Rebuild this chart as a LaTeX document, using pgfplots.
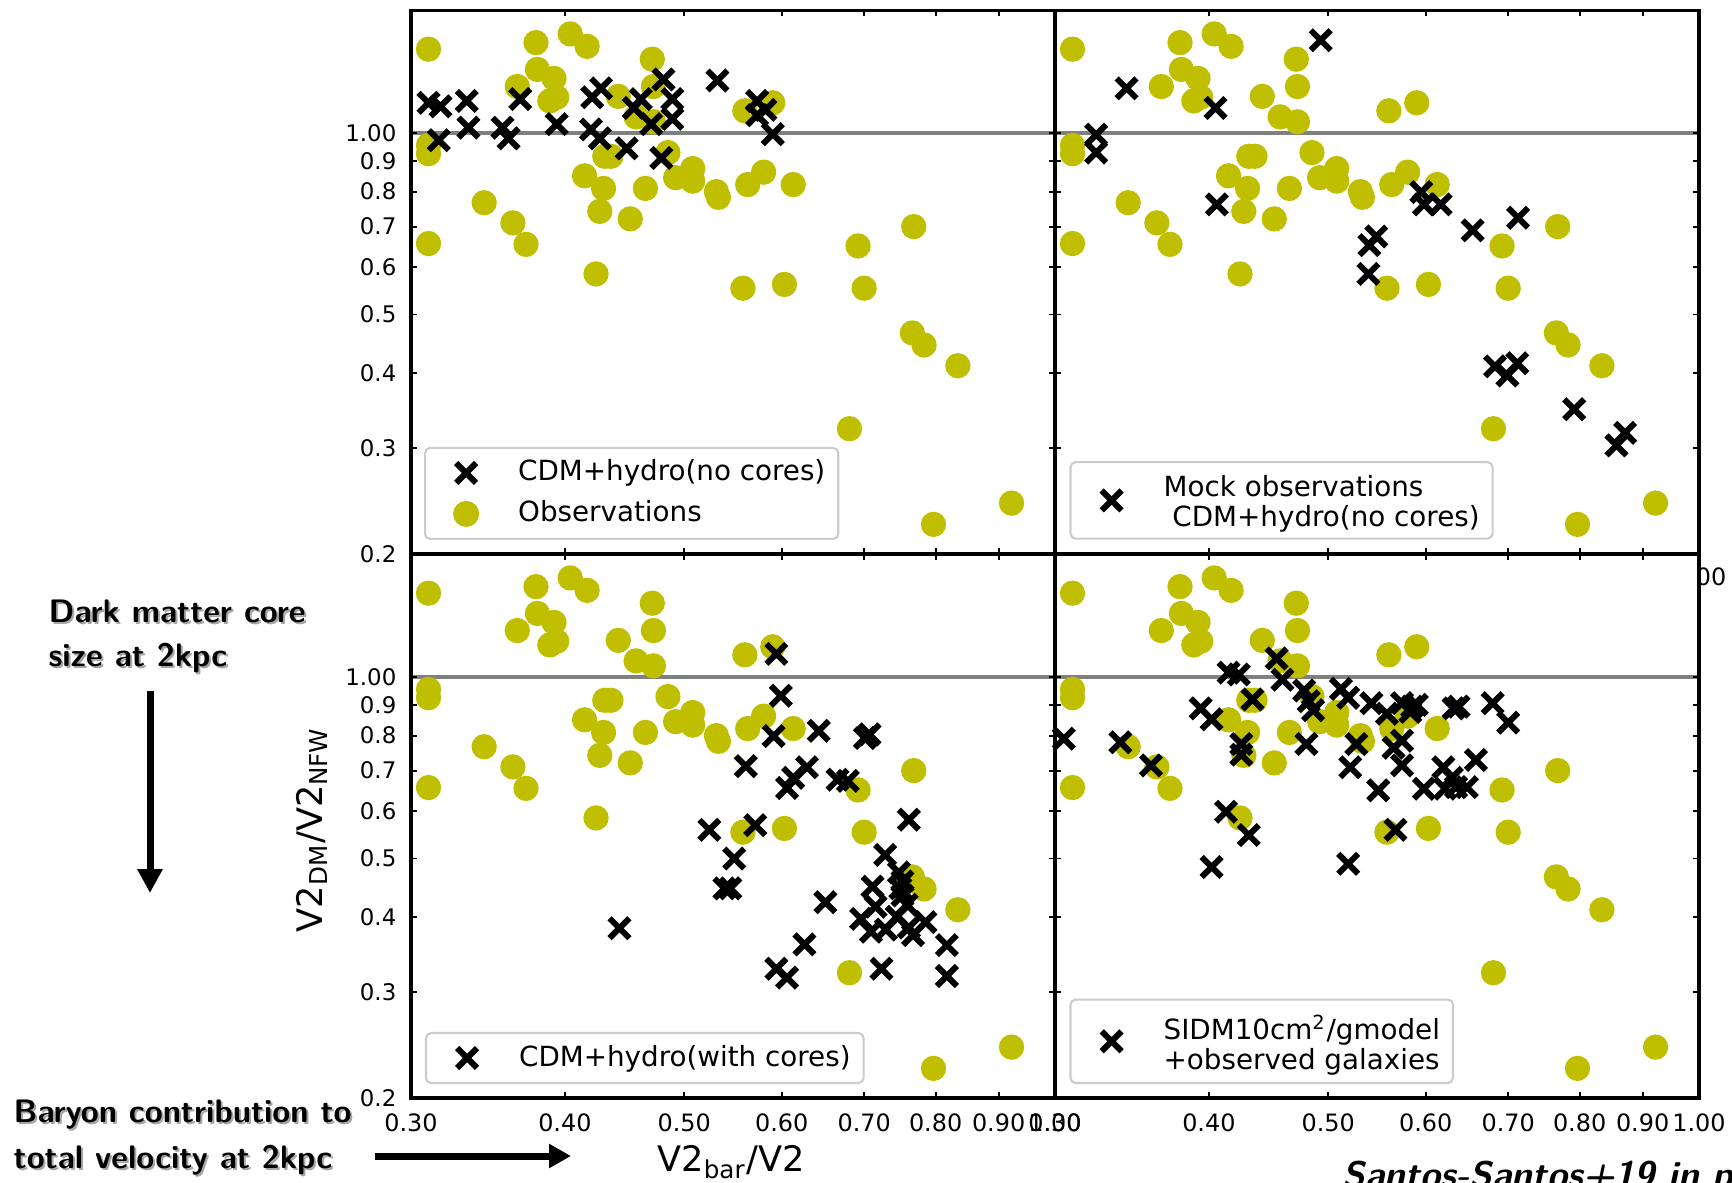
\documentclass[border=0pt]{standalone}
\usepackage{pgfplots}
\usepackage{pgfplotstable}
\pgfplotsset{compat=1.18}
\usepackage{fontspec}
\setmainfont{DejaVu Sans}
\usetikzlibrary{arrows.meta}
\definecolor{obsy}{HTML}{BFBF00}
\definecolor{leggray}{HTML}{CCCCCC}

\pgfplotstableread{
x y
0.310 1.38
0.310 0.925
0.310 0.955
0.310 0.656
0.344 0.767
0.363 0.71
0.372 0.654
0.379 1.415
0.380 1.277
0.366 1.196
0.392 1.234
0.394 1.148
0.389 1.132
0.404 1.463
0.417 1.395
0.415 0.850
0.430 0.810
0.427 0.742
0.424 0.584
0.431 0.916
0.436 0.916
0.442 1.152
0.452 0.721
0.457 1.065
0.465 0.810
0.471 1.328
0.472 1.196
0.472 1.045
0.485 0.929
0.492 0.844
0.508 0.874
0.508 0.833
0.531 0.800
0.533 0.783
0.558 0.553
0.563 0.822
0.560 1.09
0.580 0.862
0.590 1.124
0.603 0.561
0.613 0.822
0.681 0.323
0.692 0.650
0.700 0.553
0.768 0.700
0.766 0.466
0.783 0.445
0.834 0.411
0.797 0.224
0.922 0.243
}\obs

\pgfplotstableread{
x y
0.310 1.124
0.317 1.109
0.333 1.132
0.316 0.974
0.334 1.022
0.356 1.022
0.360 0.981
0.368 1.140
0.394 1.036
0.420 1.015
0.427 0.981
0.421 1.148
0.428 1.188
0.449 0.944
0.455 1.102
0.461 1.140
0.470 1.036
0.479 0.910
0.481 1.229
0.489 1.140
0.489 1.057
0.532 1.224
0.573 1.132
0.573 1.072
0.582 1.094
0.590 0.997
}\nocores

\pgfplotstableread{
x y
0.343 1.188
0.324 0.995
0.324 0.929
0.405 1.102
0.406 0.762
0.493 1.428
0.540 0.652
0.547 0.674
0.539 0.584
0.595 0.799
0.598 0.762
0.617 0.762
0.655 0.690
0.713 0.724
0.683 0.410
0.699 0.396
0.712 0.415
0.792 0.348
0.857 0.303
0.871 0.318
}\mock

\pgfplotstableread{
x y
0.594 1.094
0.599 0.932
0.591 0.799
0.643 0.815
0.701 0.793
0.707 0.804
0.561 0.712
0.606 0.655
0.613 0.681
0.629 0.709
0.666 0.676
0.679 0.673
0.524 0.558
0.571 0.568
0.549 0.500
0.539 0.446
0.545 0.446
0.443 0.383
0.761 0.580
0.728 0.507
0.747 0.474
0.752 0.458
0.749 0.446
0.711 0.449
0.651 0.423
0.696 0.397
0.709 0.378
0.715 0.416
0.744 0.400
0.767 0.373
0.785 0.392
0.761 0.384
0.626 0.360
0.594 0.328
0.606 0.317
0.723 0.328
0.817 0.359
0.817 0.319
0.729 0.381
0.752 0.434
0.758 0.419
}\cores

\pgfplotstableread{
x y
0.305 0.791
0.339 0.780
0.359 0.714
0.394 0.888
0.402 0.852
0.415 1.018
0.423 1.011
0.434 0.919
0.425 0.775
0.425 0.744
0.413 0.598
0.431 0.547
0.402 0.484
0.454 1.075
0.459 0.991
0.478 0.951
0.482 0.913
0.486 0.882
0.480 0.775
0.512 0.957
0.519 0.925
0.542 0.906
0.558 0.870
0.574 0.906
0.583 0.876
0.590 0.900
0.585 0.894
0.527 0.775
0.521 0.709
0.549 0.649
0.565 0.764
0.574 0.785
0.574 0.714
0.567 0.558
0.598 0.653
0.620 0.709
0.630 0.681
0.622 0.653
0.635 0.657
0.648 0.657
0.659 0.729
0.632 0.888
0.638 0.894
0.680 0.906
0.700 0.841
0.519 0.490
}\sidm

\newcommand\legfont{\fontsize{7.9pt}{8.6pt}\selectfont}
\newcommand\annofont{\sffamily\bfseries\fontsize{9.25pt}{11pt}\selectfont}

\pgfplotsset{
  every axis/.append style={
    scale only axis, width=6.44cm, height=5.435cm, anchor=south west,
    xmin=0.3, xmax=1.0, ymin=0.2, ymax=1.6,
    xtick={0.3,0.4,0.5,0.6,0.7,0.8,0.9,1.0},
    ytick={0.2,0.3,0.4,0.5,0.6,0.7,0.8,0.9,1.0},
    minor xtick={}, minor ytick={},
    tick align=inside, major tick length=0.06cm,
    major tick style={black, line width=0.55pt},
    axis line style={line width=0.9pt},
    axis background/.style={fill=white},
    axis on top,
    xticklabel style={font=\fontsize{6.8pt}{8pt}\selectfont, inner sep=0pt, anchor=north, yshift=-0.15cm},
    yticklabel style={font=\fontsize{6.5pt}{8pt}\selectfont, inner sep=0pt, anchor=east, xshift=-0.14cm},
    legend cell align=left,
    legend style={draw=leggray, line width=0.6pt, rounded corners=0.05cm, fill=white,
      font=\legfont, inner xsep=0.13cm, inner ysep=0.13cm, anchor=south west,
      nodes={inner sep=0pt},
      /tikz/every odd column/.append style={column sep=0.37cm}},
  },
  mylegimg/.style={legend image code/.code={\path (-0.27cm,0cm) (0.14cm,0cm); \draw[##1] plot coordinates {(0cm,0cm)};}},
}

% plot commands (same look in every panel)
\newcommand\obsplot{\addplot[only marks, mark=*, mark size=3.4pt, color=obsy,
  mark options={draw=none, fill=obsy}, forget plot] table {\obs};}
\newcommand\oneline{\addplot[color=gray, line width=1.1pt, forget plot] coordinates {(0.3,1) (1,1)};}
\newcommand\crossplot[1]{\addplot[only marks, mark=x, mark size=4.0pt, color=black,
  mark options={line width=1.7pt}, mylegimg] table {#1};}

\begin{document}
\begin{tikzpicture}
% partially hidden tick label at the right edge
\node[anchor=east, inner sep=0pt, font=\fontsize{6.8pt}{8pt}\selectfont] at (17.27,6.05) {1.00};

% top left
\begin{loglogaxis}[at={(4.11cm,6.28cm)},
  xticklabels={}, yticklabels={0.2,0.3,0.4,0.5,0.6,0.7,0.8,0.9,1.00},
  legend style={at={(0.0202,0.0258)}, nodes={text height=0.2cm, text depth=0.04cm}, /tikz/row sep=0.17cm}]
\obsplot
\oneline
\crossplot{\nocores}
\addlegendentry{CDM+hydro(no cores)}
\addlegendimage{only marks, mark=*, mark size=3.4pt, color=obsy, mark options={draw=none, fill=obsy}, mylegimg}
\addlegendentry{Observations}
\end{loglogaxis}

% top right
\begin{loglogaxis}[at={(10.55cm,6.28cm)},
  xticklabels={}, yticklabels={},
  legend style={at={(0.0225,0.0263)}}]
\obsplot
\oneline
\crossplot{\mock}
\addlegendentry{\begin{tabular}{@{}l@{}}Mock observations\\\ CDM+hydro(no cores)\rule[-0.25cm]{0pt}{0.25cm}\end{tabular}}
\end{loglogaxis}

% bottom left
\begin{loglogaxis}[at={(4.11cm,0.84cm)},
  xticklabels={0.30,0.40,0.50,0.60,0.70,0.80,0.90,1.00},
  yticklabels={0.2,0.3,0.4,0.5,0.6,0.7,0.8,0.9,1.00},
  legend style={at={(0.0217,0.0257)}, nodes={text height=0.2cm, text depth=0.04cm}},
  xlabel={V2\textsubscript{bar}/V2},
  ylabel={V2\textsubscript{DM}/V2\textsubscript{NFW}},
  label style={font=\fontsize{10pt}{12pt}\selectfont},
  xlabel style={at={(axis description cs:0.497,-0.1176)}, anchor=center},
  ylabel style={at={(axis description cs:-0.1537,0.494)}, anchor=center}]
\obsplot
\oneline
\crossplot{\cores}
\addlegendentry{CDM+hydro(with cores)}
\end{loglogaxis}

% bottom right
\begin{loglogaxis}[at={(10.55cm,0.84cm)},
  xticklabels={0.30,0.40,0.50,0.60,0.70,0.80,0.90,1.00}, yticklabels={},
  legend style={at={(0.0225,0.0257)}}]
\obsplot
\oneline
\crossplot{\sidm}
\addlegendentry{\begin{tabular}{@{}l@{}}\rule{0pt}{0.27cm}SIDM10cm\textsuperscript{2}/gmodel\\+observed galaxies\rule[-0.33cm]{0pt}{0.33cm}\end{tabular}}
\end{loglogaxis}

% annotations
\foreach \dx/\dy/\col in {0.02/-0.02/black!35, 0/0/black}{
  \node[anchor=base west, inner sep=0pt, text=\col, xshift=\dx cm, yshift=\dy cm] at (0.48,5.593) {\annofont Dark matter core};
  \node[anchor=base west, inner sep=0pt, text=\col, xshift=\dx cm, yshift=\dy cm] at (0.48,5.16) {\annofont size at 2kpc};
  \node[anchor=base west, inner sep=0pt, text=\col, xshift=\dx cm, yshift=\dy cm] at (0.13,0.60) {\annofont Baryon contribution to};
  \node[anchor=base west, inner sep=0pt, text=\col, xshift=\dx cm, yshift=\dy cm] at (0.13,0.14) {\annofont total velocity at 2kpc};
}
\node[anchor=base west, inner sep=0pt] at (13.42,-0.05) {\sffamily\bfseries\slshape\fontsize{10.5pt}{12pt}\selectfont Santos-Santos+19 in prep.};
\draw[line width=0.07cm, -{Triangle[width=0.24cm,length=0.24cm]}] (1.50,4.91) -- (1.50,2.89);
\draw[line width=0.07cm, -{Triangle[width=0.23cm,length=0.22cm]}] (3.746,0.26) -- (5.71,0.26);

\pgfresetboundingbox
\path (0,0) rectangle (17.32,11.82);
\end{tikzpicture}
\end{document}
